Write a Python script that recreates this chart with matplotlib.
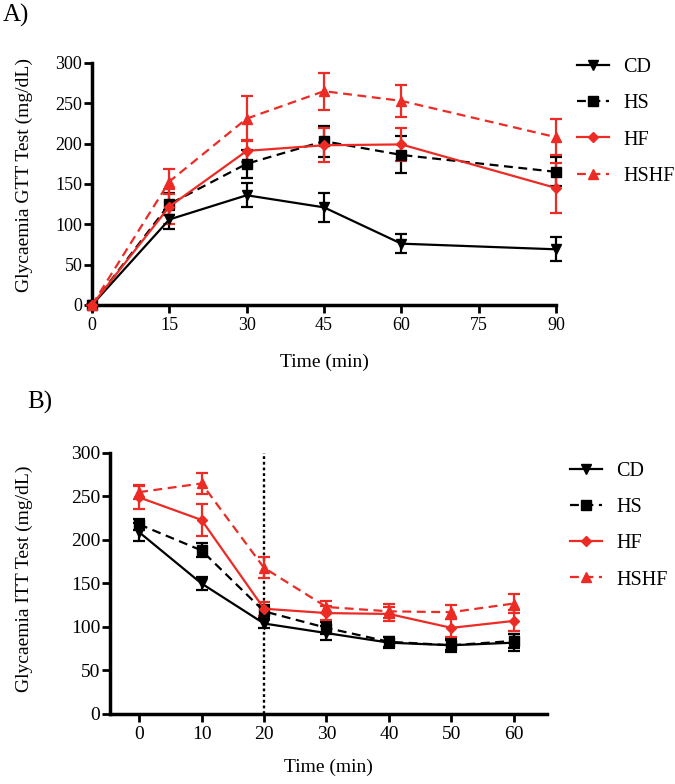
import matplotlib
matplotlib.use("Agg")
import matplotlib.pyplot as plt


plt.rcParams["font.family"] = ["Liberation Serif", "DejaVu Serif"]

RED = "#ec2b25"
BLACK = "#000000"

GROUPS = ["CD", "HS", "HF", "HSHF"]

# Panel A: glucose tolerance test
GTT_TIME = [0, 15, 30, 45, 60, 90]
GTT_CD = [0, 106, 136, 121, 76, 69]
GTT_CD_ERR = [0, 12, 15, 18, 12, 15]
GTT_HS = [0, 125, 175, 203, 186, 165]
GTT_HS_ERR = [0, 14, 17, 19, 23, 18]
GTT_HF = [0, 122, 191, 198, 199, 145]
GTT_HF_ERR = [0, 22, 14, 21, 20, 31]
GTT_HSHF = [0, 153, 231, 265, 253, 208]
GTT_HSHF_ERR = [0, 15, 28, 23, 20, 22]

# Panel B: insulin tolerance test
ITT_TIME = [0, 10, 20, 30, 40, 50, 60]
ITT_CD = [209, 150, 104, 93, 82, 79, 82]
ITT_CD_ERR = [10, 7, 5, 8, 6, 8, 10]
ITT_HS = [218, 188, 118, 99, 83, 79, 84]
ITT_HS_ERR = [6, 8, 7, 7, 6, 6, 8]
ITT_HF = [249, 223, 121, 116, 115, 99, 107]
ITT_HF_ERR = [13, 18, 8, 8, 8, 10, 12]
ITT_HSHF = [255, 265, 168, 123, 118, 117, 127]
ITT_HSHF_ERR = [8, 12, 12, 7, 8, 8, 11]

GTT_TICKS = [0, 15, 30, 45, 60, 75, 90]
ITT_TICKS = [0, 10, 20, 30, 40, 50, 60]
Y_TICKS = [0, 50, 100, 150, 200, 250, 300]

DASH = (0, (4, 2.5))
STYLES = {
    "CD": dict(color=BLACK, ls="-", marker="v", ms=7),
    "HS": dict(color=BLACK, ls=DASH, marker="s", ms=6.5),
    "HF": dict(color=RED, ls="-", marker="D", ms=5),
    "HSHF": dict(color=RED, ls=DASH, marker="^", ms=7),
}


def draw_series(ax, x, series, errors):
    handles = []
    for name, y, err in zip(GROUPS, series, errors):
        st = STYLES[name]
        eb = ax.errorbar(
            x, y, yerr=err,
            color=st["color"], linestyle=st["ls"], linewidth=1.6,
            marker=st["marker"], markersize=st["ms"],
            capsize=4.5, capthick=1.6, elinewidth=1.6,
            clip_on=False, zorder=3, label=name,
        )
        for art in eb.lines[1] + eb.lines[2]:
            art.set_clip_on(False)
        # legend shows only the line and marker, no error bar
        handles.append(eb.lines[0])
    return handles


def style_axes(ax, xticks, labelsize):
    for side in ["top", "right"]:
        ax.spines[side].set_visible(False)
    for side in ["left", "bottom"]:
        ax.spines[side].set_linewidth(2.5)
    ax.set_yticks(Y_TICKS)
    ax.set_xticks(xticks)
    ax.set_ylim(0, 300)
    ax.tick_params(direction="out", length=6, width=2, labelsize=labelsize)
    ax.tick_params(axis="y", pad=1)
    ax.tick_params(axis="x", pad=3)


def add_legend(ax, handles, anchor):
    ax.legend(
        handles=handles, labels=GROUPS, loc="upper left",
        bbox_to_anchor=anchor, bbox_transform=ax.figure.transFigure,
        frameon=False, fontsize=14.5, handlelength=1.6, handletextpad=0.7,
        labelspacing=0.85, borderpad=0, borderaxespad=0,
    )


fig = plt.figure(figsize=(6.75, 7.84), dpi=100)

# ---- Panel A ----
ax_a = fig.add_axes([0.1363, 0.6110, 0.6874, 0.3087])
handles_a = draw_series(
    ax_a, GTT_TIME,
    [GTT_CD, GTT_HS, GTT_HF, GTT_HSHF],
    [GTT_CD_ERR, GTT_HS_ERR, GTT_HF_ERR, GTT_HSHF_ERR],
)
style_axes(ax_a, GTT_TICKS, 13)
ax_a.set_xlim(0, 90)
ax_a.set_ylabel("Glycaemia GTT Test (mg/dL)", fontsize=14)
ax_a.set_xlabel("Time (min)", fontsize=14)
ax_a.yaxis.set_label_coords(-0.127, 0.537)
ax_a.xaxis.set_label_coords(0.5, -0.2)
add_legend(ax_a, handles_a, (0.855, 0.926))
fig.text(0.004, 0.995, "A)", fontsize=18, va="top", ha="left")

# ---- Panel B ----
ax_b = fig.add_axes([0.1630, 0.0893, 0.6474, 0.3329])
ax_b.axvline(20, ymin=0, ymax=1, color=BLACK, linestyle=(0, (1.2, 1.2)),
             linewidth=1.7, zorder=2)
handles_b = draw_series(
    ax_b, ITT_TIME,
    [ITT_CD, ITT_HS, ITT_HF, ITT_HSHF],
    [ITT_CD_ERR, ITT_HS_ERR, ITT_HF_ERR, ITT_HSHF_ERR],
)
style_axes(ax_b, ITT_TICKS, 14)
ax_b.set_xlim(-4.65, 65.3)
ax_b.set_ylabel("Glycaemia ITT Test (mg/dL)", fontsize=14)
ax_b.set_xlabel("Time (min)", fontsize=14)
ax_b.yaxis.set_label_coords(-0.176, 0.517)
ax_b.xaxis.set_label_coords(0.5, -0.17)
add_legend(ax_b, handles_b, (0.844, 0.411))
fig.text(0.04, 0.502, "B)", fontsize=18, va="top", ha="left")

fig.savefig("out.png", dpi=100)
